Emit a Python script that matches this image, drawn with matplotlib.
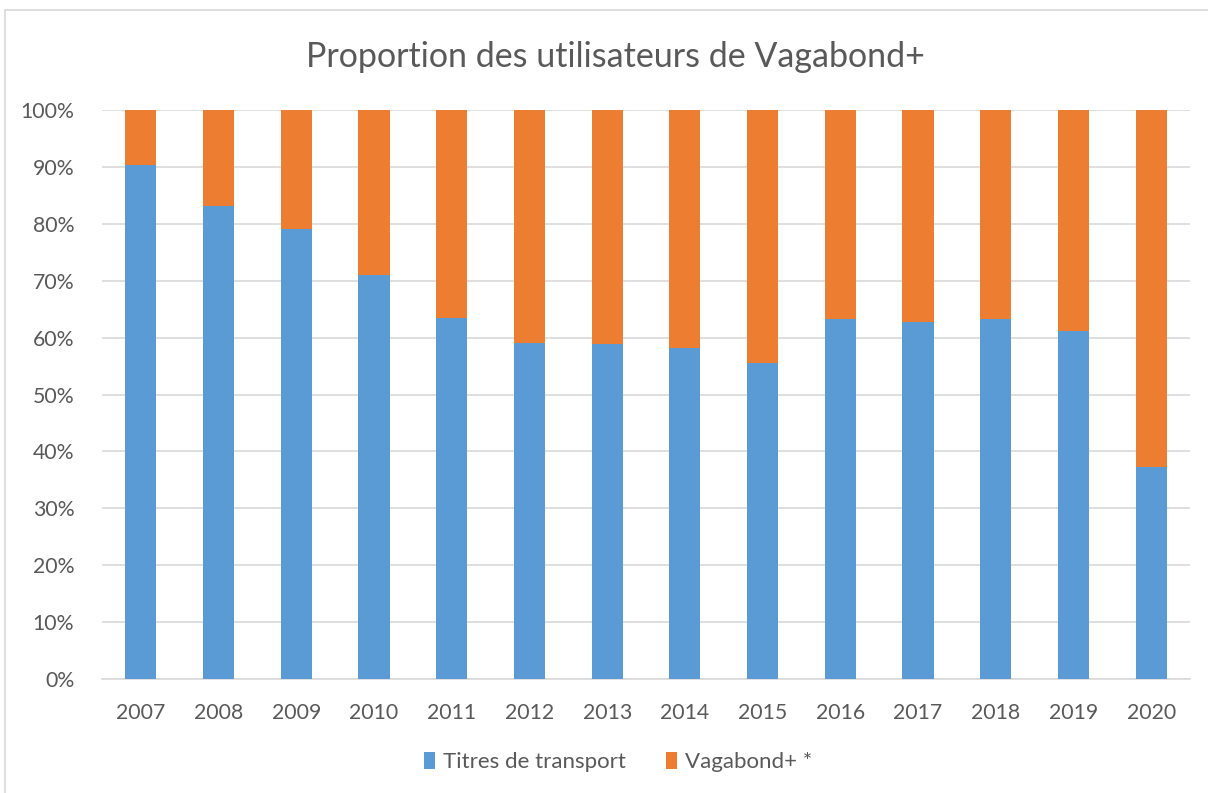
import matplotlib
matplotlib.use("Agg")
import matplotlib.pyplot as plt
from matplotlib.patches import Rectangle
from matplotlib.ticker import FuncFormatter, MultipleLocator

years = ["2007", "2008", "2009", "2010", "2011", "2012", "2013",
         "2014", "2015", "2016", "2017", "2018", "2019", "2020"]
titres = [90.3, 83.2, 79.1, 71.0, 63.4, 59.1, 58.9, 58.2, 55.6, 63.2, 62.8, 63.2, 61.2, 37.3]
vagabond = [100 - v for v in titres]

BLUE = "#5B9BD5"
ORANGE = "#ED7D31"
TEXT = "#595959"
GRID = "#D9D9D9"

plt.rcParams['font.family'] = ['Lato', 'DejaVu Sans']

W, H = 1208, 793
fig = plt.figure(figsize=(W / 100, H / 100), dpi=100)
fig.patch.set_facecolor("white")

# chart border
fig.add_artist(Rectangle((5 / W, -0.01), 1.2, 1 - 10 / H + 0.01, transform=fig.transFigure,
                         fill=False, edgecolor="#D9D9D9", linewidth=1.2))

left, right, top, bottom = 102, 1190, 110, 679
ax = fig.add_axes([left / W, 1 - bottom / H, (right - left) / W, (bottom - top) / H])

x = range(len(years))
ax.bar(x, titres, width=0.4, color=BLUE, label="Titres de transport", zorder=3)
ax.bar(x, vagabond, width=0.4, bottom=titres, color=ORANGE, label="Vagabond+ *", zorder=3)

ax.set_xlim(-0.5, len(years) - 0.5)
ax.set_ylim(0, 100)
ax.yaxis.set_major_locator(MultipleLocator(10))
ax.yaxis.set_major_formatter(FuncFormatter(lambda v, p: f"{int(round(v))}%"))
ax.set_xticks(list(x))
ax.set_xticklabels(years)
ax.grid(axis="y", color=GRID, linewidth=1.2, zorder=0)
ax.tick_params(axis="both", length=0, labelsize=15.3, colors=TEXT)
ax.tick_params(axis="x", pad=17)
ax.tick_params(axis="y", pad=20)
for s in ["top", "right", "left"]:
    ax.spines[s].set_visible(False)
ax.spines["bottom"].set_color(GRID)
ax.spines["bottom"].set_linewidth(1.2)

fig.text(615 / W, 1 - 57 / H, "Proportion des utilisateurs de Vagabond+",
         ha="center", va="center", fontsize=24.5, color=TEXT)

leg = fig.legend(loc="center", bbox_to_anchor=(618 / W, 1 - 762 / H), ncol=2, frameon=False,
                 fontsize=16, handlelength=0.5, handleheight=0.8, handletextpad=0.35,
                 columnspacing=1.8)
for t in leg.get_texts():
    t.set_color(TEXT)

fig.savefig("out.png", dpi=100, facecolor="white")
